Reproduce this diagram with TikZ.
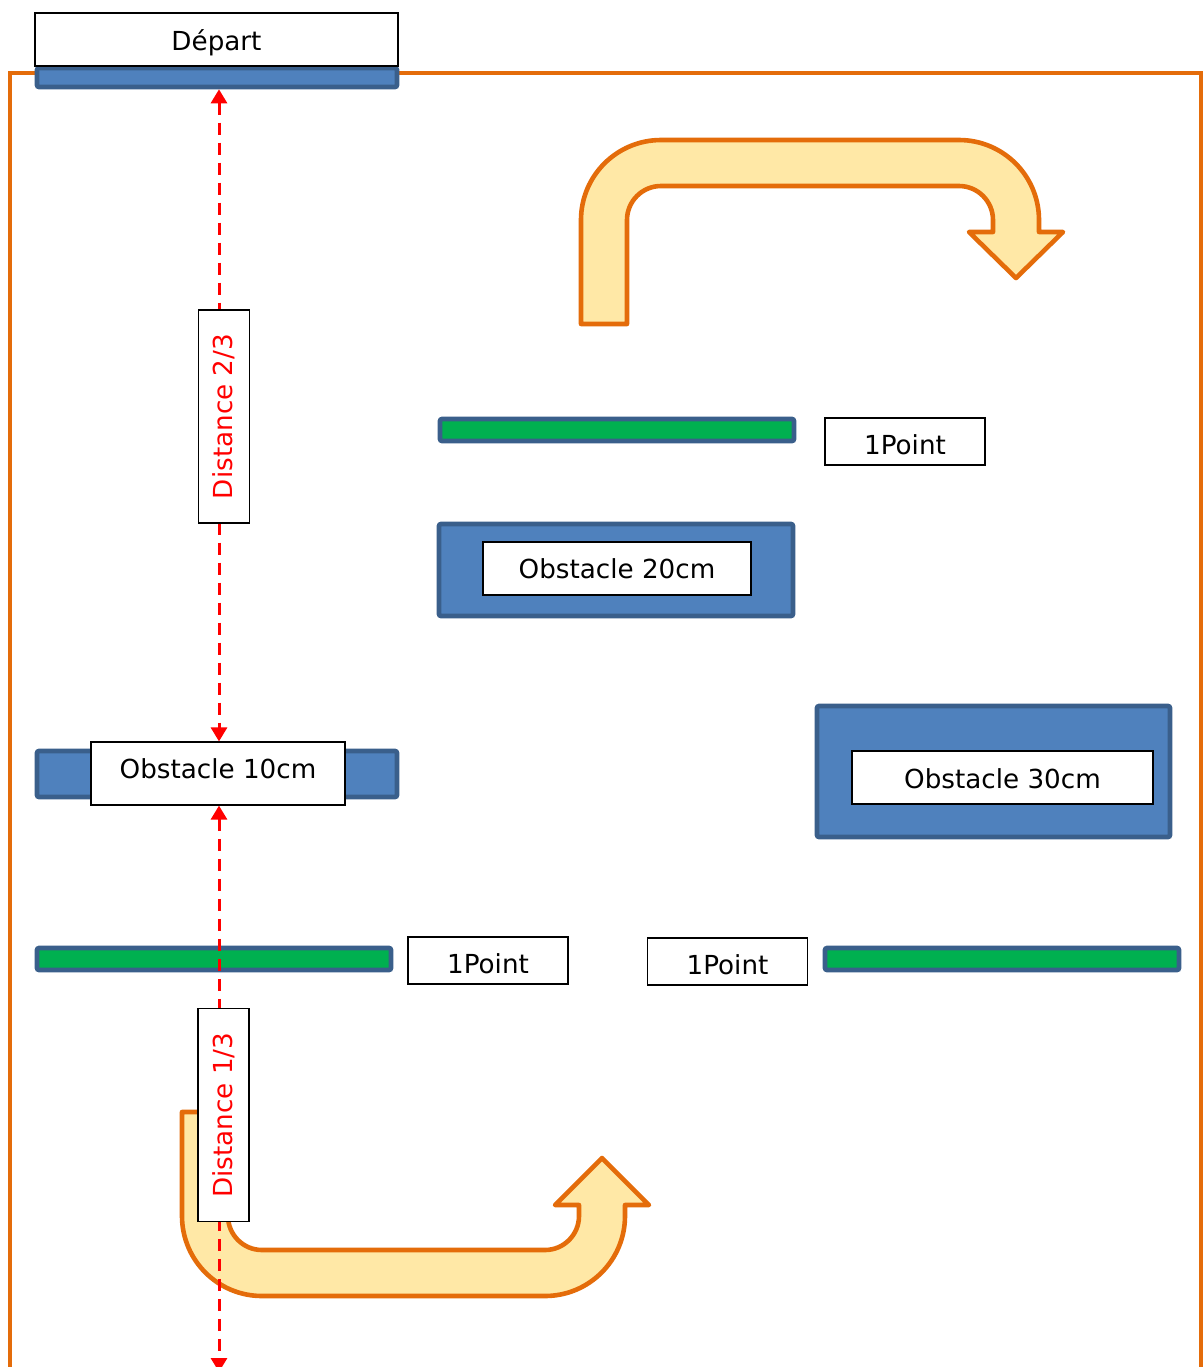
\documentclass[tikz,border=0pt]{standalone}
\usepackage{fontspec}
\setmainfont{DejaVu Sans}
\usetikzlibrary{arrows.meta}
\definecolor{frameorange}{HTML}{E46C0A}
\definecolor{arrowfill}{HTML}{FFE8A6}
\definecolor{barblue}{HTML}{4F81BD}
\definecolor{baredge}{HTML}{3A5F8B}
\definecolor{bargreen}{HTML}{00B050}
\begin{document}
\begin{tikzpicture}[x=0.5pt,y=0.5pt,
  every node/.style={inner sep=0pt, font=\fontsize{13.1}{15}\selectfont},
  bluebar/.style={draw=baredge, fill=barblue, line width=2.3pt, rounded corners=1pt},
  greenbar/.style={draw=baredge, fill=bargreen, line width=2.3pt, rounded corners=1pt, minimum width=177pt, minimum height=11pt},
  labelbox/.style={draw=black, fill=white, line width=0.6pt},
  pointbox/.style={labelbox, minimum width=80pt, minimum height=23.5pt, text height=13pt, text depth=0pt},
  distbox/.style={labelbox, rotate=90, text=red, minimum height=25.5pt, minimum width=106.5pt},
  distline/.style={red, line width=1.5pt, dash pattern=on 6pt off 4pt,
    {Triangle[width=8pt,length=7pt]}-{Triangle[width=8pt,length=7pt]}},
  bentarrow/.style={draw=frameorange, fill=arrowfill, line width=2.3pt, line join=round}]

\clip (0,0) rectangle (1204,-1367);
\fill[white] (0,0) rectangle (1204,-1367);

% playing field border
\draw[frameorange, line width=2.3pt] (10,-1400) -- (10,-73) -- (1201,-73) -- (1201,-1400);

% turning arrows
\path[bentarrow] (581,-324) -- (581,-220) arc[start angle=180,end angle=90,radius=80]
  -- (959,-140) arc[start angle=90,end angle=0,radius=80]
  -- (1039,-232) -- (1063,-232) -- (1016,-278) -- (969,-232) -- (993,-232)
  -- (993,-220) arc[start angle=0,end angle=90,radius=34]
  -- (661,-186) arc[start angle=90,end angle=180,radius=34]
  -- (627,-324) -- cycle;

\path[bentarrow] (182,-1112) -- (182,-1216) arc[start angle=180,end angle=270,radius=80]
  -- (545,-1296) arc[start angle=270,end angle=360,radius=80]
  -- (625,-1205) -- (649,-1205) -- (602,-1158) -- (555,-1205) -- (579,-1205)
  -- (579,-1216) arc[start angle=0,end angle=-90,radius=34]
  -- (262,-1250) arc[start angle=270,end angle=180,radius=34]
  -- (228,-1112) -- cycle;

% start line
\node[bluebar, minimum width=180pt, minimum height=9.5pt] (startbar) at (217,-77.5) {};
\node[labelbox, minimum width=181.5pt, minimum height=26.5pt, text height=11pt, text depth=0pt] (depart) at (216.5,-39.5) {Départ};

% obstacles
\node[bluebar, minimum width=180pt, minimum height=23pt] (obs10) at (217,-774) {};
\node[bluebar, minimum width=177pt, minimum height=46pt] (obs20) at (616,-570) {};
\node[bluebar, minimum width=176.5pt, minimum height=65.5pt] (obs30) at (993.5,-771.5) {};

% scoring lines
\node[greenbar] (lineA) at (617,-430) {};
\node[greenbar] (lineB) at (214,-959) {};
\node[greenbar] (lineC) at (1002,-959) {};

% distance markers
\coordinate (distaxis) at (219,0);
\coordinate (distend) at (219,-1372);
\node[labelbox, minimum width=127pt, minimum height=31.5pt, text height=7pt, text depth=2pt] (box10) at (218,-773.5) {Obstacle 10cm};
\draw[distline] (startbar.south -| distaxis) -- (box10.north -| distaxis);
\draw[distline] (box10.south -| distaxis) -- (distend);

\node[distbox] (dist23) at (224,-416.5) {Distance 2/3};
\node[distbox] (dist13) at (223.5,-1115) {Distance 1/3};

% obstacle labels
\node[labelbox, minimum width=134pt, minimum height=26.5pt] (box20) at (617,-568.5) {Obstacle 20cm};
\node[labelbox, minimum width=150.5pt, minimum height=26.5pt, text height=11pt, text depth=0pt] (box30) at (1002.5,-777.5) {Obstacle 30cm};

% points
\node[pointbox] (ptA) at (905,-441.5) {1Point};
\node[pointbox] (ptB) at (488,-960.5) {1Point};
\node[pointbox] (ptC) at (727.5,-961.5) {1Point};
\end{tikzpicture}
\end{document}
